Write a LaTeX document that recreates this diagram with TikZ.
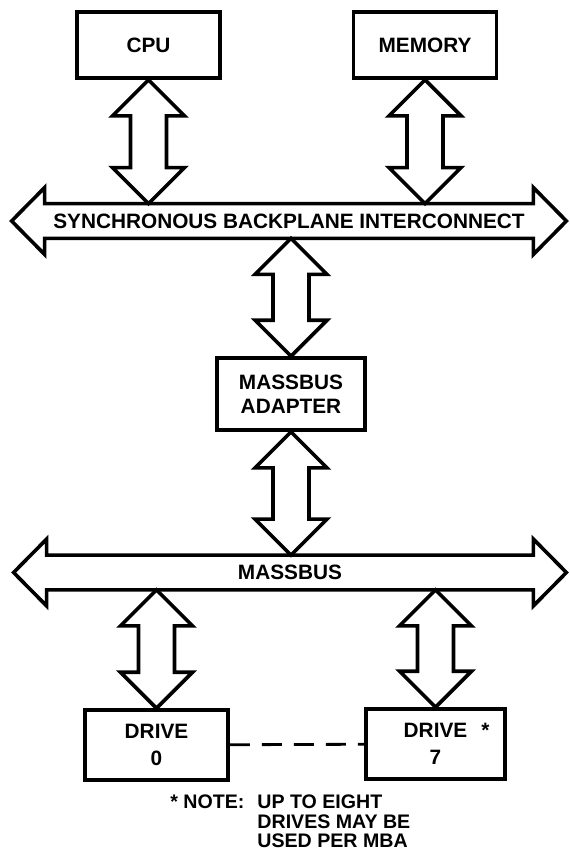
\documentclass[tikz,border=0pt]{standalone}
\usepackage{fontspec}
\setmainfont{Liberation Sans}
\usetikzlibrary{calc}
\tikzset{
	unit_box/.style = {
		draw=black,
		line width=1.8pt,
		align=center,
		inner sep=0pt,
		font=\bfseries\fontsize{10.4pt}{12pt}\selectfont,
		minimum width=71.5pt,
		minimum height=33pt
	},
	drive_box/.style = {
		unit_box,
		font=\bfseries\fontsize{10.4pt}{13.5pt}\selectfont,
		minimum height=35pt
	},
	bus_label/.style = {
		inner sep=0pt,
		font=\bfseries\fontsize{10.4pt}{12pt}\selectfont,
		minimum height=17pt
	},
	bus_outline/.style = {
		draw=black,
		line width=1.8pt,
		to path={let \p1=(\tikztostart), \p2=(\tikztotarget) in
			-- (\x1,\y1+8pt) -- (\x1-16.5pt,{(\y1+\y2)/2}) -- (\x1,\y2-8pt) -- (\x1,\y2)
			-- (\x2,\y2) -- (\x2,\y2-8pt) -- (\x2+16.5pt,{(\y1+\y2)/2}) -- (\x2,\y1+8pt) -- (\x2,\y1) -- cycle}
	},
	big_arrow/.style = {
		draw=black,
		line width=1.8pt,
		to path={let \p1=(\tikztostart), \p2=(\tikztotarget) in
			-- (\x1-18pt,\y1-18pt) -- (\x1-9pt,\y1-18pt) -- (\x1-9pt,\y2+18pt) -- (\x1-18pt,\y2+18pt) -- (\x1,\y2)
			-- (\x1+18pt,\y2+18pt) -- (\x1+9pt,\y2+18pt) -- (\x1+9pt,\y1-18pt) -- (\x1+18pt,\y1-18pt) -- cycle}
	},
	link_dashed/.style = {
		line width=1.4pt,
		dash pattern=on 10pt off 6pt
	},
	note_text/.style = {
		inner sep=0pt,
		font=\bfseries\fontsize{9.8pt}{9.8pt}\selectfont
	}
}
\begin{document}
\begin{tikzpicture}[x=0.5pt,y=-0.5pt]
\useasboundingbox (0,0) rectangle (569,867);
\node [unit_box] (cpu) at (148.5,45) {CPU};
\node [unit_box] (mem) at (425,45) {MEMORY};
\node [bus_label, minimum width=244pt] (sbi) at (289,221) {SYNCHRONOUS BACKPLANE INTERCONNECT};
\node [unit_box, minimum width=74pt, minimum height=36pt] (mba) at (291,394) {MASSBUS\\ADAPTER};
\node [bus_label, minimum width=243pt] (mbus) at (290,572.5) {MASSBUS};
\node [drive_box] (drive0) at (156.5,745) {DRIVE\\0};
\node [drive_box, minimum width=69.5pt] (drive7) at (435.5,744) {DRIVE\rlap{\hspace{7pt}*}\\7};
\node [note_text, anchor=base west] (note) at (170,808.5) {\begin{tabular}[t]{@{}l@{\hspace{6.5pt}}l@{}}
* NOTE: & UP TO EIGHT\\
 & DRIVES MAY BE\\
 & USED PER MBA
\end{tabular}};

\draw [bus_outline] (sbi.north west) to (sbi.south east);
\draw [bus_outline] (mbus.north west) to (mbus.south east);

\draw [big_arrow] (cpu.south) to (cpu.south |- sbi.north);
\draw [big_arrow] (mem.south) to (mem.south |- sbi.north);
\draw [big_arrow] (mba.north |- sbi.south) to (mba.north);
\draw [big_arrow] (mba.south) to (mba.south |- mbus.north);
\draw [big_arrow] (drive0.north |- mbus.south) to (drive0.north);
\draw [big_arrow] (drive7.north |- mbus.south) to (drive7.north);

\draw [link_dashed] (drive0) -- (drive7);
\end{tikzpicture}
\end{document}
